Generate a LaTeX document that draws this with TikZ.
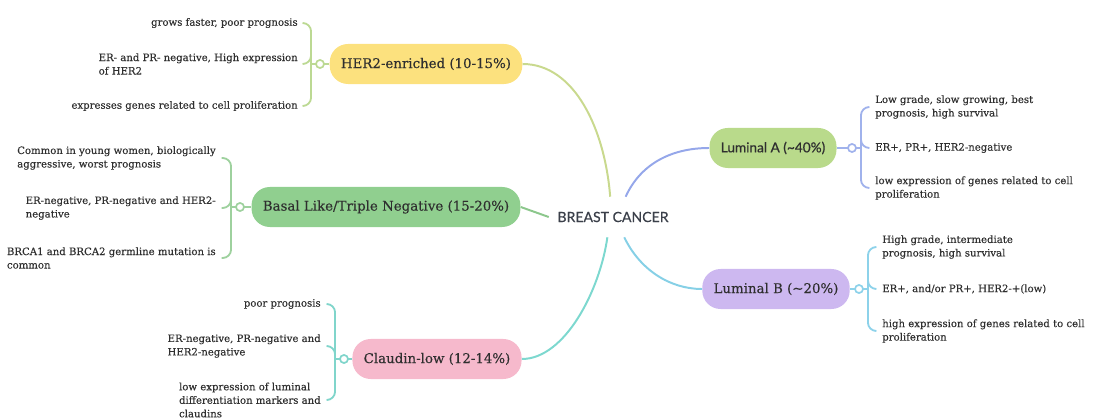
\documentclass[tikz,border=0pt]{standalone}
\usepackage{fontspec}
\setmainfont{DejaVu Serif}[FakeBold=0.25]
\newfontfamily\latofont{Lato}
\newfontfamily\latomed[FakeBold=0.5]{Lato}
\usetikzlibrary{positioning,calc}
\definecolor{txtgray}{HTML}{2F2F2F}
\definecolor{rootgray}{HTML}{3B404A}
\definecolor{her2fill}{HTML}{FCE17E}
\definecolor{her2line}{HTML}{C9D98E}
\definecolor{her2brace}{HTML}{BCD993}
\definecolor{basalfill}{HTML}{90CF8F}
\definecolor{basalline}{HTML}{8CC78C}
\definecolor{basalbrace}{HTML}{9ED19E}
\definecolor{claufill}{HTML}{F6B9CC}
\definecolor{clauline}{HTML}{7DD8CF}
\definecolor{clausbrace}{HTML}{80D5CB}
\definecolor{lumafill}{HTML}{B9DA8B}
\definecolor{lumaline}{HTML}{95A7EA}
\definecolor{lumabrace}{HTML}{A0B2EC}
\definecolor{lumbfill}{HTML}{CDB8F0}
\definecolor{lumbline}{HTML}{86D0E6}
\definecolor{lumbbrace}{HTML}{8DD2EA}
\tikzset{
    root/.style={
    rectangle,minimum height=1cm,inner xsep=6pt,text=rootgray,font=\latomed\fontsize{10}{12}\selectfont
    },
    topic/.style={
    rectangle,rounded corners=13pt,minimum height=1cm,inner xsep=8pt,text=txtgray,font=\fontsize{9.5}{11}\selectfont
    },
    knob/.style={
    circle,draw,fill=white,line width=1.1pt,minimum size=5.6pt,inner sep=0pt
    },
    leafl/.style={
    anchor=east,align=left,inner sep=0pt,text=txtgray,font=\fontsize{7.2}{9.6}\selectfont
    },
    leafr/.style={
    anchor=west,align=left,inner sep=0pt,text=txtgray,font=\fontsize{7.2}{9.6}\selectfont
    },
    branch/.style={
    line width=1.4pt
    },
    brace/.style={
    line width=1.3pt,rounded corners=6pt
    },
}

\begin{document}
\begin{tikzpicture}[x=0.025cm, y=-0.025cm]
   \useasboundingbox (0,0) rectangle (1093,418);
   \node[root] (bc) at (613,217) {BREAST CANCER};

   \node[topic,fill=her2fill] (her2) at (426,64) {HER2-enriched (10-15\%)};
   \node[topic,fill=basalfill] (basal) at (386,207) {Basal Like/Triple Negative (15-20\%)};
   \node[topic,fill=claufill] (clau) at (437,359) {Claudin-low (12-14\%)};
   \node[topic,fill=lumafill,font=\latomed\fontsize{9.7}{11}\selectfont] (luma) at (773,148) {Luminal A (\textasciitilde40\%)};
   \node[topic,fill=lumbfill] (lumb) at (776,289) {Luminal B (\textasciitilde20\%)};

   \node[knob,draw=her2brace] (h2k) at (320,64) {};
   \node[knob,draw=basalbrace] (bak) at (240,207) {};
   \node[knob,draw=clausbrace] (clk) at (344,359) {};
   \node[knob,draw=lumabrace] (lak) at (852,148) {};
   \node[knob,draw=lumbbrace] (lbk) at (859,289) {};

   % HER2-enriched
   \node[leafl] (h2a) at (298,23) {grows faster, poor prognosis};
   \node[leafl] (h2b) at (298,64) {ER- and PR- negative, High expression\\of HER2};
   \node[leafl] (h2c) at (298,106) {expresses genes related to cell proliferation};
   % basal like
   \node[leafl] (baa) at (216,158) {Common in young women, biologically\\aggressive, worst prognosis};
   \node[leafl] (bab) at (216,208) {ER-negative, PR-negative and HER2-\\negative};
   \node[leafl] (bac) at (216,258) {BRCA1 and BRCA2 germline mutation is\\common};
   % claudin-low
   \node[leafl] (cla) at (321,304) {poor prognosis};
   \node[leafl] (clb) at (321,346) {ER-negative, PR-negative and\\HER2-negative};
   \node[leafl] (clc) at (321,400) {low expression of luminal\\differentiation markers and\\claudins};
   % luminal A
   \node[leafr] (laa) at (875,107) {Low grade, slow growing, best\\prognosis, high survival};
   \node[leafr] (lab) at (875,148) {ER+, PR+, HER2-negative};
   \node[leafr] (lac) at (875,188) {low expression of genes related to cell\\proliferation};
   % luminal B
   \node[leafr] (lba) at (882,247) {High grade, intermediate\\prognosis, high survival};
   \node[leafr] (lbb) at (882,289) {ER+, and/or PR+, HER2-+(low)};
   \node[leafr] (lbc) at (882,331) {high expression of genes related to cell\\proliferation};

   \draw[branch,her2line] ([xshift=-2pt]bc.north) .. controls (605,130) and (575,64) .. (her2.east);
   \draw[branch,lumaline] ([xshift=9pt]bc.north) .. controls (640,165) and (670,148) .. (luma.west);
   \draw[branch,basalline] (bc.west) -- (basal.east);
   \draw[branch,clauline] ([xshift=-4pt]bc.south) .. controls (600,290) and (565,359) .. (clau.east);
   \draw[branch,lumbline] ([xshift=8pt]bc.south) .. controls (640,270) and (670,289) .. (lumb.west);

   \draw[brace,her2brace] ([xshift=-3pt]h2k.west) -- (her2.west);
   \draw[brace,basalbrace] ([xshift=-3pt]bak.west) -- (basal.west);
   \draw[brace,clausbrace] ([xshift=-3pt]clk.west) -- (clau.west);
   \draw[brace,lumabrace] ([xshift=3pt]lak.east) -- (luma.east);
   \draw[brace,lumbbrace] ([xshift=3pt]lbk.east) -- (lumb.east);

   \foreach \l in {h2a,h2b,h2c}
     \draw[brace,her2brace] ([xshift=4pt]\l.east) -| ([xshift=-3pt]h2k.west);
   \foreach \l in {baa,bab,bac}
     \draw[brace,basalbrace] ([xshift=4pt]\l.east) -| ([xshift=-3pt]bak.west);
   \foreach \l in {cla,clb,clc}
     \draw[brace,clausbrace] ([xshift=4pt]\l.east) -| ([xshift=-3pt]clk.west);
   \foreach \l in {laa,lab,lac}
     \draw[brace,lumabrace] ([xshift=-4pt]\l.west) -| ([xshift=3pt]lak.east);
   \foreach \l in {lba,lbb,lbc}
     \draw[brace,lumbbrace] ([xshift=-4pt]\l.west) -| ([xshift=3pt]lbk.east);

   % knobs on top of the brace stems
   \foreach \k/\c in {h2k/her2brace,bak/basalbrace,clk/clausbrace,lak/lumabrace,lbk/lumbbrace}
     \node[knob,draw=\c] at (\k) {};
\end{tikzpicture}
\end{document}
